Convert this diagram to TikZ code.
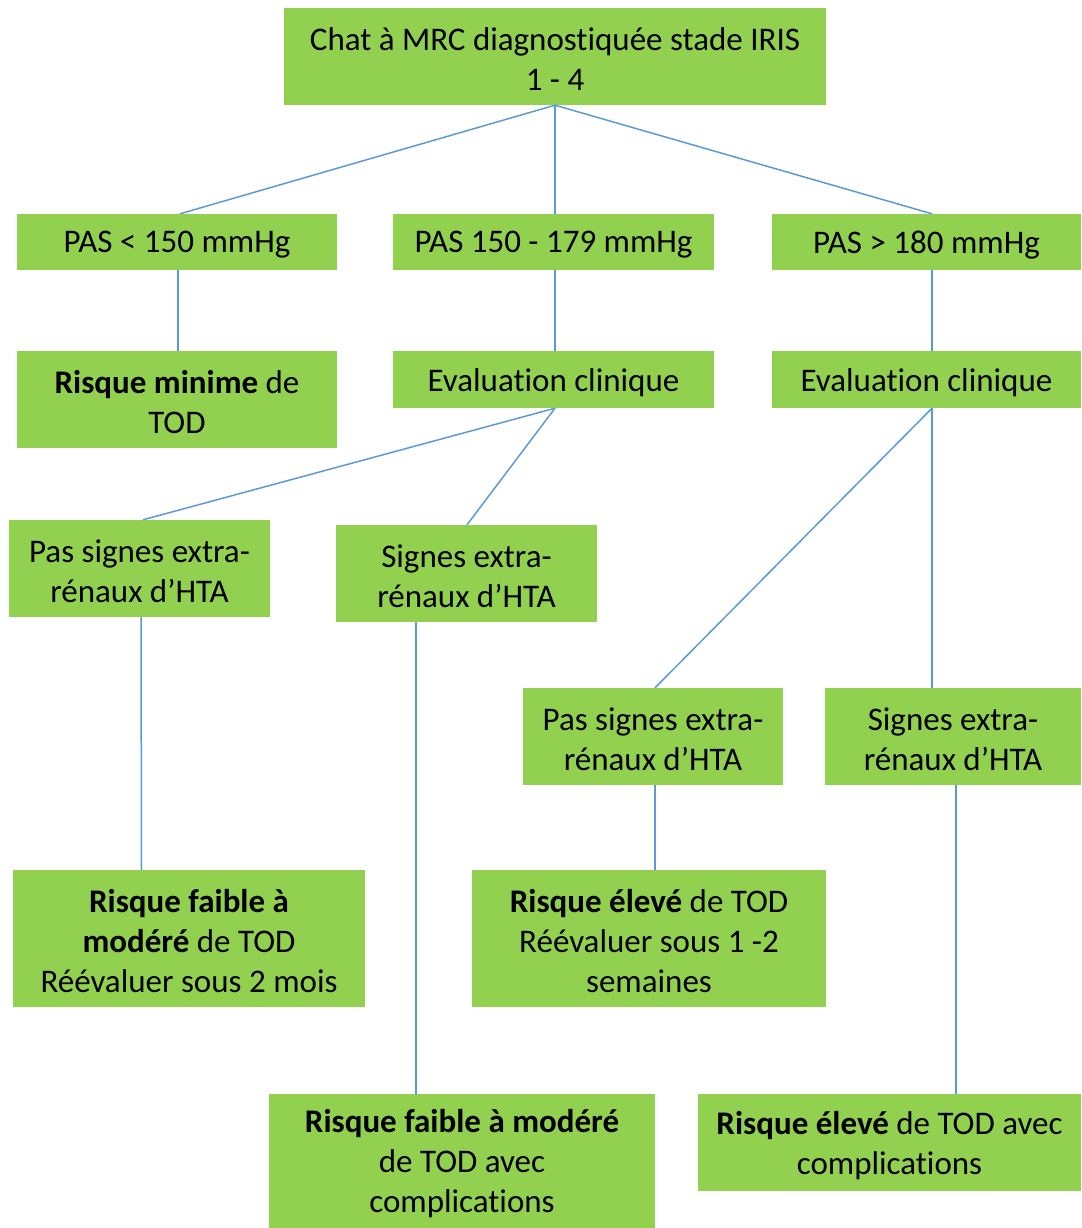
\documentclass[tikz,border=0pt]{standalone}
\usepackage{fontspec}
\setmainfont{Carlito}[Ligatures=NoCommon]
\usetikzlibrary{calc}
\definecolor{boxgreen}{HTML}{92D050}
\definecolor{linkblue}{HTML}{5B9BD5}
\begin{document}
\begin{tikzpicture}[x=1pt,y=-1pt,
  box/.style={fill=boxgreen, draw=none, inner sep=0pt,
    label={[align=center, inner sep=0pt, yshift=-3pt,
      font=\fontsize{33}{40}\selectfont]center:{#1}}},
  link/.style={draw=linkblue, line width=1.5pt}]
\useasboundingbox (0,0) rectangle (1081,1228);

% level 0
\node[box={Chat à MRC diagnostiquée stade IRIS\\1 - 4},
  minimum width=542, minimum height=97] (top) at (555,56.5) {};

% pressure classes
\node[box={PAS < 150 mmHg}, minimum width=320, minimum height=56] (p1) at (177,242) {};
\node[box={PAS 150 - 179 mmHg}, minimum width=321, minimum height=56] (p2) at (553.5,242) {};
\node[box={PAS > 180 mmHg}, minimum width=309, minimum height=56] (p3) at (926.5,242) {};

% second level
\node[box={\textbf{Risque minime} de\\TOD},
  minimum width=320, minimum height=97] (r0) at (177,399.5) {};
\node[box={Evaluation clinique}, minimum width=321, minimum height=57] (e1) at (553.5,379.5) {};
\node[box={Evaluation clinique}, minimum width=309, minimum height=57] (e2) at (926.5,379.5) {};

% clinical signs
\node[box={Pas signes extra-\\rénaux d’HTA},
  minimum width=261, minimum height=97] (a1) at (139.5,568.5) {};
\node[box={Signes extra-\\rénaux d’HTA},
  minimum width=261, minimum height=97] (b1) at (466.5,573.5) {};
\node[box={Pas signes extra-\\rénaux d’HTA},
  minimum width=260, minimum height=97] (a2) at (653,736.5) {};
\node[box={Signes extra-\\rénaux d’HTA},
  minimum width=256, minimum height=97] (b2) at (953,736.5) {};

% outcomes
\node[box={\textbf{Risque faible à}\\\textbf{modéré} de TOD\\Réévaluer sous 2 mois},
  minimum width=352, minimum height=137] (r1) at (189,938.5) {};
\node[box={\textbf{Risque élevé} de TOD\\Réévaluer sous 1 -2\\semaines},
  minimum width=354, minimum height=137] (r2) at (649,938.5) {};
\node[box={\textbf{Risque faible à modéré}\\de TOD avec\\complications},
  minimum width=386, minimum height=134] (r3) at (462,1161) {};
\node[box={\textbf{Risque élevé} de TOD avec\\complications},
  minimum width=383, minimum height=97] (r4) at (889.5,1142.5) {};

% connectors
\draw[link] (top.south) -- ($(p1.north)+(3,0)$);
\draw[link] (top.south) -- ($(p2.north)+(1.5,0)$);
\draw[link] (top.south) -- ($(p3.north)+(5.5,0)$);
\draw[link] ($(p1.south)+(1,0)$) -- ($(r0.north)+(1,0)$);
\draw[link] ($(p2.south)+(1.5,0)$) -- ($(e1.north)+(1.5,0)$);
\draw[link] ($(p3.south)+(5.5,0)$) -- ($(e2.north)+(5.5,0)$);
\draw[link] ($(e1.south)+(1.5,0)$) -- ($(a1.north)+(3.5,0)$);
\draw[link] ($(e1.south)+(1.5,0)$) -- ($(b1.north)+(0.5,0)$);
\draw[link] ($(e2.south)+(5.5,0)$) -- ($(a2.north)+(2,0)$);
\draw[link] ($(e2.south)+(5.5,0)$) -- ($(b2.north)+(-21,0)$);
\draw[link] ($(a1.south)+(1.5,0)$) -- ($(r1.north)+(-47.5,0)$);
\draw[link] ($(b1.south)+(-50.5,0)$) -- ($(r3.north)+(-46,0)$);
\draw[link] ($(a2.south)+(2,0)$) -- ($(r2.north)+(6,0)$);
\draw[link] ($(b2.south)+(3,0)$) -- ($(r4.north)+(66.5,0)$);
\end{tikzpicture}
\end{document}
